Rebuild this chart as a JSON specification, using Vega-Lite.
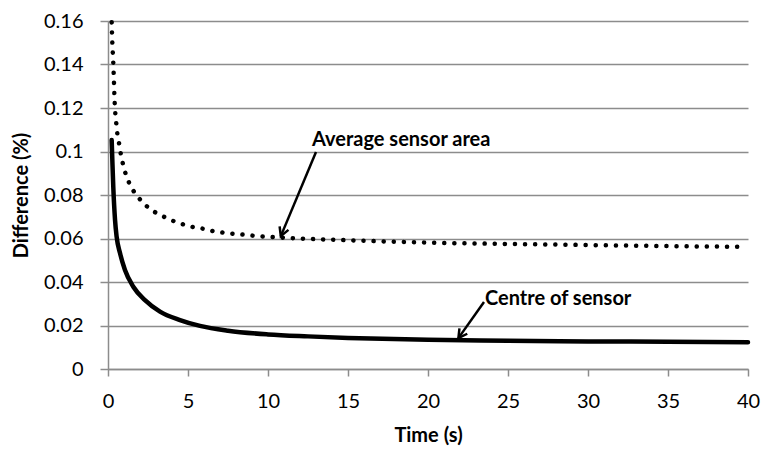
{
  "$schema": "https://vega.github.io/schema/vega-lite/v6.json",
  "width": 640,
  "height": 348,
  "autosize": {"type": "none"},
  "padding": {"left": 108, "top": 21, "right": 14, "bottom": 83},
  "background": "white",
  "config": {
    "view": {"stroke": null},
    "font": "Lato",
    "axis": {
      "labelFont": "Lato",
      "labelFontSize": 20,
      "labelColor": "#000000",
      "labelFlush": false,
      "titleFont": "Lato",
      "titleFontSize": 20,
      "titleFontWeight": "bold",
      "titleColor": "#000000",
      "domainColor": "#8c8c8c",
      "tickColor": "#8c8c8c",
      "gridColor": "#8c8c8c",
      "domainWidth": 1.5,
      "tickWidth": 1.5,
      "gridWidth": 1.5
    }
  },
  "datasets": {
    "centre": [
      {"t": 0.23, "v": 0.1053}, {"t": 0.28, "v": 0.094}, {"t": 0.33, "v": 0.0838},
      {"t": 0.44, "v": 0.0685}, {"t": 0.54, "v": 0.0608}, {"t": 0.75, "v": 0.0533},
      {"t": 1.06, "v": 0.0455}, {"t": 1.58, "v": 0.0378}, {"t": 2.31, "v": 0.0317},
      {"t": 3.25, "v": 0.0264}, {"t": 4.5, "v": 0.0225}, {"t": 5.75, "v": 0.0198},
      {"t": 7.5, "v": 0.0176}, {"t": 10, "v": 0.0159}, {"t": 12.5, "v": 0.015},
      {"t": 15, "v": 0.0143}, {"t": 20, "v": 0.0134}, {"t": 25, "v": 0.013},
      {"t": 30, "v": 0.0127}, {"t": 35, "v": 0.0125}, {"t": 40, "v": 0.0123}
    ],
    "average": [
      {"t": 0.23, "v": 0.1594}, {"t": 0.27, "v": 0.15}, {"t": 0.33, "v": 0.1408},
      {"t": 0.375, "v": 0.1315}, {"t": 0.42, "v": 0.1222}, {"t": 0.46, "v": 0.1174},
      {"t": 0.52, "v": 0.1128}, {"t": 0.58, "v": 0.1084}, {"t": 0.69, "v": 0.1038},
      {"t": 0.79, "v": 0.0993}, {"t": 0.92, "v": 0.0947}, {"t": 1.08, "v": 0.0903},
      {"t": 1.31, "v": 0.0858}, {"t": 1.6, "v": 0.0818}, {"t": 2.0, "v": 0.078},
      {"t": 2.46, "v": 0.0746}, {"t": 2.96, "v": 0.072}, {"t": 3.52, "v": 0.0699},
      {"t": 4.1, "v": 0.068}, {"t": 4.7, "v": 0.0665}, {"t": 5.3, "v": 0.0653},
      {"t": 5.94, "v": 0.0645}, {"t": 6.56, "v": 0.0634}, {"t": 7.2, "v": 0.0627},
      {"t": 7.8, "v": 0.0622}, {"t": 8.44, "v": 0.0618}, {"t": 9.06, "v": 0.0613},
      {"t": 10.9, "v": 0.0604}, {"t": 15, "v": 0.0592}, {"t": 20, "v": 0.0581},
      {"t": 25, "v": 0.0575}, {"t": 30, "v": 0.057}, {"t": 35, "v": 0.0565},
      {"t": 39.5, "v": 0.0562}
    ],
    "notes": [
      {"label": "Average sensor area", "tx": 12.75, "ty": 0.1053, "x1": 13.0, "y1": 0.0998, "x2": 10.8, "y2": 0.0611, "ang": 202},
      {"label": "Centre of sensor", "tx": 23.56, "ty": 0.0322, "x1": 23.5, "y1": 0.0308, "x2": 21.9, "y2": 0.0142, "ang": 215}
    ]
  },
  "layer": [
    {
      "data": {"name": "average"},
      "mark": {"type": "line", "color": "#000000", "strokeWidth": 4.5, "strokeDash": [0.1, 10], "strokeCap": "round", "interpolate": "monotone"},
      "encoding": {
        "x": {"field": "t", "type": "quantitative", "scale": {"domain": [0, 40], "nice": false},
          "axis": {"values": [0, 5, 10, 15, 20, 25, 30, 35, 40], "grid": false, "title": "Time (s)", "tickSize": 7, "labelPadding": 15, "titlePadding": 14}},
        "y": {"field": "v", "type": "quantitative", "scale": {"domain": [0, 0.16], "nice": false},
          "axis": {"values": [0, 0.02, 0.04, 0.06, 0.08, 0.1, 0.12, 0.14, 0.16], "format": "~g", "grid": true, "title": "Difference (%)", "tickSize": 8, "labelPadding": 17, "titlePadding": 12}}
      }
    },
    {
      "data": {"name": "centre"},
      "mark": {"type": "line", "color": "#000000", "strokeWidth": 4.5, "strokeCap": "round", "interpolate": "monotone"},
      "encoding": {
        "x": {"field": "t", "type": "quantitative"},
        "y": {"field": "v", "type": "quantitative"}
      }
    },
    {
      "data": {"name": "notes"},
      "mark": {"type": "rule", "color": "#000000", "strokeWidth": 2.5},
      "encoding": {
        "x": {"field": "x1", "type": "quantitative"},
        "y": {"field": "y1", "type": "quantitative"},
        "x2": {"field": "x2"},
        "y2": {"field": "y2"}
      }
    },
    {
      "data": {"name": "notes"},
      "mark": {"type": "point", "shape": "M-0.55,1 L0,0 L0.55,1", "filled": false, "color": "#000000", "strokeWidth": 2.5, "size": 300, "opacity": 1},
      "encoding": {
        "x": {"field": "x2", "type": "quantitative"},
        "y": {"field": "y2", "type": "quantitative"},
        "angle": {"field": "ang", "type": "quantitative", "scale": null}
      }
    },
    {
      "data": {"name": "notes"},
      "mark": {"type": "text", "align": "left", "baseline": "middle", "font": "Lato", "fontSize": 20, "fontWeight": "bold", "color": "#000000"},
      "encoding": {
        "x": {"field": "tx", "type": "quantitative"},
        "y": {"field": "ty", "type": "quantitative"},
        "text": {"field": "label"}
      }
    }
  ]
}
